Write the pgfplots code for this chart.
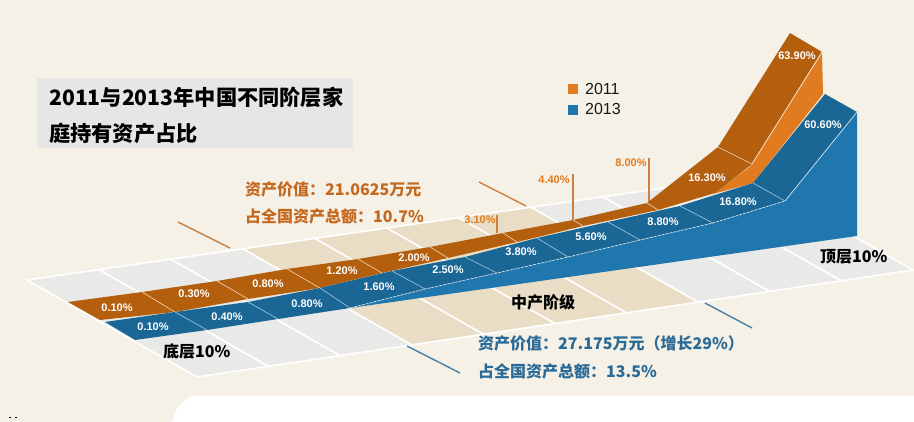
\documentclass[border=0pt]{standalone}
\usepackage{fontspec}
\usepackage{pgfplots}
\pgfplotsset{compat=1.18}
\setmainfont{Liberation Sans}
\newfontfamily\cjk{Noto Sans CJK SC}

\definecolor{bgcream}{HTML}{F5F1E7}
\definecolor{floorgray}{HTML}{E9EAE8}
\definecolor{floortan}{HTML}{E9DDC5}
\definecolor{darkorange}{HTML}{B45F0E}
\definecolor{lightorange}{HTML}{E07B1F}
\definecolor{darkblue}{HTML}{1A6694}
\definecolor{lightblue}{HTML}{2077AE}
\definecolor{textorange}{HTML}{C5691F}
\definecolor{textblue}{HTML}{2A6A96}
\definecolor{titlegray}{HTML}{E6E6E6}

\tikzset{
  val/.style={font=\fontsize{11}{11}\selectfont\bfseries, text=white, inner sep=0pt},
  oval/.style={font=\fontsize{11}{11}\selectfont\bfseries, text=lightorange, inner sep=0pt},
  zh/.style={font=\cjk\fontsize{16}{16}\selectfont\bfseries, inner sep=0pt, anchor=west},
  floorline/.style={draw=white, line width=1.6pt},
}

\begin{document}
\begin{tikzpicture}
\begin{axis}[
    width=914pt, height=422pt, scale only axis,
    xmin=0, xmax=914, ymin=0, ymax=422,
    y dir=reverse,
    axis lines=none,
    no markers,
]
% everything is in pixel coordinates of the picture
\addplot[fill=bgcream, draw=none] coordinates {(0,0)(914,0)(914,396)(190,396)(177,408)(172,422)(0,422)} -- cycle;
\addplot[fill=black, draw=none] coordinates {(9,417)(11,417)(11,418)(9,418)} -- cycle;
\addplot[fill=black, draw=none] coordinates {(15,417)(17,417)(17,418)(15,418)} -- cycle;

% floor, ten columns
\addplot[fill=floorgray, floorline] coordinates {(27,280)(99,269.6)(268.6,366.3)(197,377)} -- cycle;
\addplot[fill=floorgray, floorline] coordinates {(99,269.6)(171,259.2)(340.2,355.6)(268.6,366.3)} -- cycle;
\addplot[fill=floorgray, floorline] coordinates {(171,259.2)(243,248.8)(411.8,344.9)(340.2,355.6)} -- cycle;
\addplot[fill=floortan, floorline] coordinates {(243,248.8)(315,238.4)(483.4,334.2)(411.8,344.9)} -- cycle;
\addplot[fill=floortan, floorline] coordinates {(315,238.4)(387,228)(555,323.5)(483.4,334.2)} -- cycle;
\addplot[fill=floortan, floorline] coordinates {(387,228)(459,217.6)(626.6,312.8)(555,323.5)} -- cycle;
\addplot[fill=floortan, floorline] coordinates {(459,217.6)(531,207.2)(698.2,302.1)(626.6,312.8)} -- cycle;
\addplot[fill=floorgray, floorline] coordinates {(531,207.2)(603,196.8)(769.8,291.4)(698.2,302.1)} -- cycle;
\addplot[fill=floorgray, floorline] coordinates {(603,196.8)(675,186.4)(841.4,280.7)(769.8,291.4)} -- cycle;
\addplot[fill=floorgray, floorline] coordinates {(675,186.4)(747,176)(913,270)(841.4,280.7)} -- cycle;

% leader lines
\addplot[color=textorange!85!white, line width=1.4pt] coordinates {(178,222)(230,248)};
\addplot[color=textorange!85!white, line width=1.4pt] coordinates {(479,182)(526,206)};
\addplot[color=textorange!85!white, line width=1.4pt] coordinates {(497,215)(497,233)};
\addplot[color=textorange!85!white, line width=1.4pt] coordinates {(573,174)(573,221)};
\addplot[color=textorange!85!white, line width=1.4pt] coordinates {(649,158)(649,205)};
\addplot[color=textblue!85!white, line width=1.4pt] coordinates {(407,346)(460,373)};
\addplot[color=textblue!85!white, line width=1.4pt] coordinates {(705,303)(752,328)};

% 2011 strip
\addplot[fill=lightorange, draw=none] coordinates {(822,53)(823,94)(753,183)(713,194)(748,168)(752,164)} -- cycle;
\addplot[fill=darkorange, draw=none] coordinates {(68,302)(142,292)(217,281)(287,269)(358,259)(430,247)(503,233)(573,220)(647,203)(718,147)(790,33)(822,52)(752,164)(715,193)(658,210)(583,226)(517,242)(448,258)(382,273)(320,288)(248,299)(175,312)(100,320)} -- cycle;
\addplot[color=white!70!lightorange, line width=0.6pt] coordinates {(142,292)(175,312)};
\addplot[color=white!70!lightorange, line width=0.6pt] coordinates {(217,281)(248,299)};
\addplot[color=white!70!lightorange, line width=0.6pt] coordinates {(287,269)(320,288)};
\addplot[color=white!70!lightorange, line width=0.6pt] coordinates {(358,259)(382,273)};
\addplot[color=white!70!lightorange, line width=0.6pt] coordinates {(430,247)(448,258)};
\addplot[color=white!70!lightorange, line width=0.6pt] coordinates {(503,233)(517,242)};
\addplot[color=white!70!lightorange, line width=0.6pt] coordinates {(573,220)(583,226)};
\addplot[color=white!70!lightorange, line width=0.6pt] coordinates {(647,203)(658,210)};
\addplot[color=white!70!lightorange, line width=0.6pt] coordinates {(718,147)(752,164)};
\addplot[color=white!85!lightorange, line width=0.7pt] coordinates {(752,164)(822,52)};

% 2013 strip
\addplot[fill=lightblue, draw=none] coordinates {(350,308)(425,289)(497,273)(568,257)(640,240)(713,223)(785,201)(857,112)(857,236)} -- cycle;
\addplot[fill=darkblue, draw=none] coordinates {(105,322)(175,312)(248,302)(320,288)(392,271)(465,257)(537,238)(608,222)(680,206)(753,183)(825,94)(857,112)(785,201)(713,223)(640,240)(568,257)(497,273)(425,289)(350,308)(278,319)(207,330)(135,340)} -- cycle;
\addplot[color=white!60!lightblue, line width=0.6pt] coordinates {(175,312)(207,330)};
\addplot[color=white!60!lightblue, line width=0.6pt] coordinates {(248,302)(278,319)};
\addplot[color=white!60!lightblue, line width=0.6pt] coordinates {(320,288)(350,308)};
\addplot[color=white!60!lightblue, line width=0.6pt] coordinates {(392,271)(425,289)};
\addplot[color=white!60!lightblue, line width=0.6pt] coordinates {(465,257)(497,273)};
\addplot[color=white!60!lightblue, line width=0.6pt] coordinates {(537,238)(568,257)};
\addplot[color=white!60!lightblue, line width=0.6pt] coordinates {(608,222)(640,240)};
\addplot[color=white!60!lightblue, line width=0.6pt] coordinates {(680,206)(713,223)};
\addplot[color=white!60!lightblue, line width=0.6pt] coordinates {(753,183)(785,201)};
\addplot[color=white!80!lightblue, line width=0.7pt, dash pattern=on 3pt off 1pt] coordinates {(350,308)(425,289)(497,273)(568,257)(640,240)(713,223)(785,201)};
\addplot[color=white!80!lightblue, line width=0.7pt] coordinates {(785,201)(857,112)};

% title box and legend swatches
\addplot[fill=titlegray, draw=none] coordinates {(37,78)(353,78)(353,148)(37,148)} -- cycle;
\addplot[fill=lightorange, draw=none] coordinates {(568,84)(578,84)(578,94)(568,94)} -- cycle;
\addplot[fill=lightblue, draw=none] coordinates {(568,105)(578,105)(578,115)(568,115)} -- cycle;

\node[font=\cjk\fontsize{21.2}{21.2}\selectfont\bfseries, anchor=west, inner sep=0pt] at (axis cs:49,97) {2011与2013年中国不同阶层家};
\node[font=\cjk\fontsize{21.2}{21.2}\selectfont\bfseries, anchor=west, inner sep=0pt] at (axis cs:49,133) {庭持有资产占比};
\node[font=\fontsize{16}{16}\selectfont, text=black!90, anchor=west, inner sep=0pt] at (axis cs:585,89) {2011};
\node[font=\fontsize{16}{16}\selectfont, text=black!90, anchor=west, inner sep=0pt] at (axis cs:585,109) {2013};

% 2011 values
\node[val] at (axis cs:117,308) {0.10\%};
\node[val] at (axis cs:194,294) {0.30\%};
\node[val] at (axis cs:268,284) {0.80\%};
\node[val] at (axis cs:342,271) {1.20\%};
\node[val] at (axis cs:414,258) {2.00\%};
\node[oval] at (axis cs:480,220) {3.10\%};
\node[oval] at (axis cs:554,180) {4.40\%};
\node[oval] at (axis cs:631,163) {8.00\%};
\node[val] at (axis cs:707,178) {16.30\%};
\node[val] at (axis cs:797,56) {63.90\%};

% 2013 values
\node[val] at (axis cs:153,327) {0.10\%};
\node[val] at (axis cs:227,317) {0.40\%};
\node[val] at (axis cs:307,304) {0.80\%};
\node[val] at (axis cs:379,287) {1.60\%};
\node[val] at (axis cs:448,270) {2.50\%};
\node[val] at (axis cs:521,252) {3.80\%};
\node[val] at (axis cs:591,237) {5.60\%};
\node[val] at (axis cs:663,222) {8.80\%};
\node[val] at (axis cs:738,202) {16.80\%};
\node[val] at (axis cs:823,125) {60.60\%};

% annotations
\node[zh, text=textorange] at (axis cs:245,189) {资产价值：21.0625万元};
\node[zh, text=textorange] at (axis cs:245,216) {占全国资产总额：10.7\%};
\node[zh, text=textblue] at (axis cs:478,343) {资产价值：27.175万元（增长29\%）};
\node[zh, text=textblue] at (axis cs:478,371) {占全国资产总额：13.5\%};
\node[zh, text=black] at (axis cs:163,351) {底层10\%};
\node[zh, text=black] at (axis cs:511,302) {中产阶级};
\node[zh, text=black] at (axis cs:820,257) {顶层10\%};
\end{axis}
\end{tikzpicture}
\end{document}
